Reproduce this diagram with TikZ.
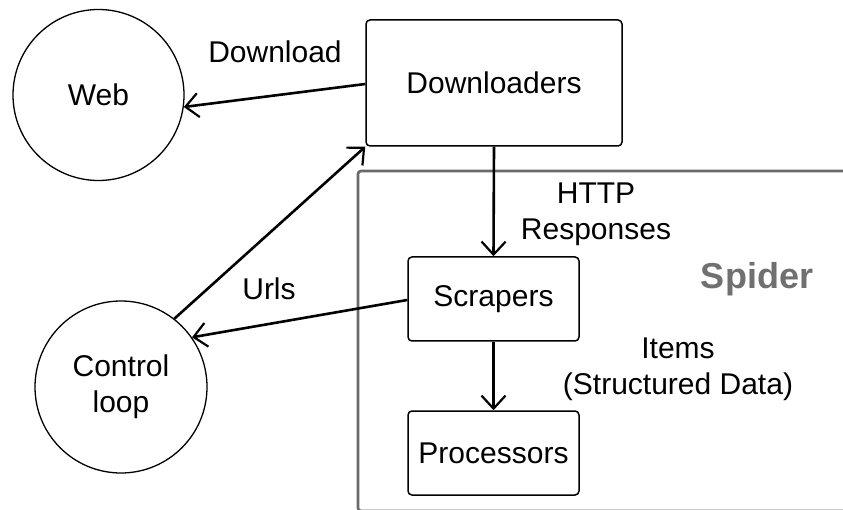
\documentclass[tikz,border=0pt]{standalone}
\usepackage{fontspec}
\setmainfont{Liberation Sans}
\usetikzlibrary{arrows.meta}
\definecolor{framegray}{HTML}{6A6A6A}
\definecolor{labelgray}{HTML}{707070}
\tikzset{
  every node/.style={font=\fontsize{30}{36}\selectfont, text=black, inner sep=0pt},
  circ/.style={draw, circle, line width=1.3pt, minimum size=#1},
  box/.style={draw, rectangle, rounded corners=4pt, line width=1.5pt,
              minimum width=#1, align=center},
  flow/.style={draw, line width=2.6pt,
               -{Straight Barb[length=13pt,width=24pt,line width=2.2pt]}},
  lbl/.style={align=center}
}
\begin{document}
\begin{tikzpicture}[x=1pt, y=-1pt]
  \useasboundingbox (0,0) rectangle (843,510);
  \clip (0,0) rectangle (843,510);

  % Spider container, running off the right and bottom edges
  \draw[framegray, line width=2.6pt, rounded corners=3pt] (358,171) rectangle (900,511);
  \node[font=\fontsize{36}{40}\selectfont\bfseries, text=labelgray] (spider) at (757,279) {Spider};

  % Nodes
  \node[circ=171pt] (web) at (98.5,95) {Web};
  \node[circ=172pt, align=center] (ctrl) at (121,387) {Control\\loop};
  \node[box=256pt, minimum height=126pt] (dl) at (494,83) {Downloaders};
  \node[box=171pt, minimum height=84pt] (scr) at (493.5,299) {Scrapers};
  \node[box=171pt, minimum height=84pt] (proc) at (493.5,453) {Processors};

  % Connectors
  \draw[flow] (dl.west |- 0,84) -- (web.-8);
  \draw[flow] (dl.south) -- (scr.north);
  \draw[flow] (scr.south) -- (proc.north);
  \draw[flow] (scr.west |- 0,300) -- (ctrl.35);
  \draw[flow] (ctrl.52) -- (dl.south west);

  % Connector labels
  \node[lbl] (ldown) at (275,52) {Download};
  \node[lbl] (lurls) at (269,289) {Urls};
  \node[lbl] (lhttp) at (596,214) {HTTP\\Responses};
  \node[lbl] (litems) at (678,369) {Items\\(Structured Data)};
\end{tikzpicture}
\end{document}
